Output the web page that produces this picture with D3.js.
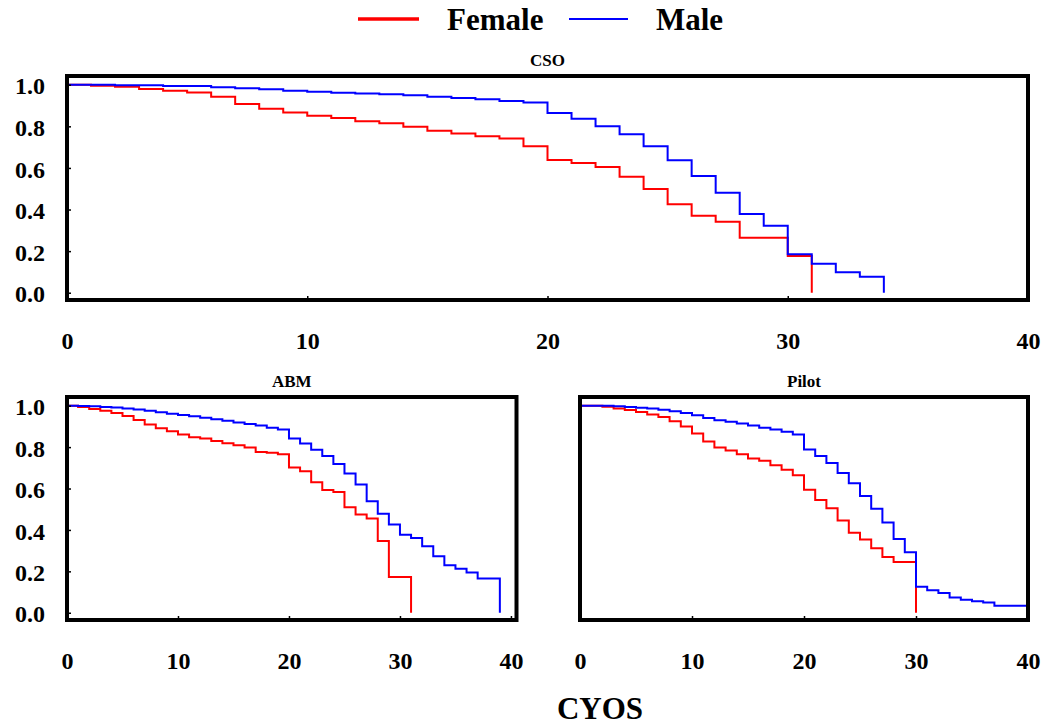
<!DOCTYPE html>
<html>
<head>
<meta charset="utf-8">
<script src="https://cdn.jsdelivr.net/npm/d3@7"></script>
<style>
	body { margin: 0; background: #fff; }
	text { font-family: "Liberation Serif", "Times New Roman", serif; font-weight: bold; }
</style>
</head>
<body>
<div id="chart"></div>
<script>
// survival by year (index = year), last point is the drop to 0
let csoFemale = [1.0, 0.995, 0.99, 0.98, 0.971, 0.963, 0.942, 0.907, 0.885, 0.867, 0.851, 0.84, 0.824, 0.815, 0.798, 0.779, 0.765, 0.752, 0.741, 0.704, 0.638, 0.624, 0.604, 0.558, 0.499, 0.425, 0.37, 0.341, 0.264, 0.264, 0.176, 0];
let csoMale = [1.0, 1.0, 0.997, 0.997, 0.994, 0.994, 0.988, 0.983, 0.978, 0.971, 0.966, 0.962, 0.958, 0.954, 0.949, 0.942, 0.936, 0.93, 0.922, 0.914, 0.864, 0.837, 0.8, 0.762, 0.704, 0.637, 0.561, 0.481, 0.378, 0.322, 0.185, 0.139, 0.098, 0.077, 0];
let abmFemale = [1.0, 0.994, 0.984, 0.975, 0.965, 0.95, 0.931, 0.909, 0.891, 0.877, 0.861, 0.848, 0.841, 0.83, 0.819, 0.809, 0.798, 0.776, 0.773, 0.766, 0.702, 0.684, 0.63, 0.593, 0.583, 0.51, 0.475, 0.455, 0.346, 0.173, 0.173, 0];
let abmMale = [1.0, 0.999, 0.997, 0.994, 0.991, 0.987, 0.982, 0.975, 0.968, 0.961, 0.955, 0.949, 0.942, 0.934, 0.927, 0.919, 0.911, 0.904, 0.894, 0.885, 0.841, 0.817, 0.787, 0.757, 0.718, 0.672, 0.62, 0.539, 0.478, 0.426, 0.377, 0.361, 0.321, 0.273, 0.229, 0.213, 0.194, 0.165, 0.165, 0];
let pilotFemale = [1.0, 1.0, 0.995, 0.986, 0.979, 0.97, 0.958, 0.946, 0.925, 0.899, 0.866, 0.827, 0.798, 0.784, 0.766, 0.745, 0.734, 0.712, 0.691, 0.664, 0.594, 0.545, 0.505, 0.446, 0.386, 0.354, 0.311, 0.269, 0.245, 0.245, 0];
let pilotMale = [1.0, 1.0, 1.0, 0.997, 0.994, 0.99, 0.986, 0.981, 0.973, 0.965, 0.954, 0.941, 0.93, 0.922, 0.914, 0.904, 0.894, 0.885, 0.874, 0.861, 0.789, 0.757, 0.723, 0.675, 0.625, 0.564, 0.502, 0.436, 0.356, 0.292, 0.125, 0.109, 0.096, 0.074, 0.063, 0.056, 0.05, 0.034, 0.034, 0.034, 0];

let xTicks = [0, 10, 20, 30, 40];
let yTicks = [0, 0.2, 0.4, 0.6, 0.8, 1.0];
let seriesNames = ["Female", "Male"];
let colors = { Female: "#ff0000", Male: "#0000ff" };

var w = 1044,
	h = 727;
var serif = '"Liberation Serif", "Times New Roman", serif';

var svg = d3
	.select("#chart")
	.append("svg")
	.attr("width", w)
	.attr("height", h);

svg.append("rect").attr("width", w).attr("height", h).attr("fill", "#fff");

var panels = [
	{ title: "CSO", Female: csoFemale, Male: csoMale, left: 67, right: 1028, top: 76, bottom: 300, xMax: 40, yAxis: true },
	{ title: "ABM", Female: abmFemale, Male: abmMale, left: 67, right: 516.5, top: 397, bottom: 620, xMax: 40.5, yAxis: true },
	{ title: "Pilot", Female: pilotFemale, Male: pilotMale, left: 580, right: 1028, top: 397, bottom: 620, xMax: 40, yAxis: false },
];

panels.forEach(function (p) {
	let x = d3.scaleLinear().domain([0, p.xMax]).range([p.left, p.right]);
	let y = d3.scaleLinear().domain([-0.035, 1.042]).range([p.bottom, p.top]);

	let g = svg.append("g").attr("class", "panel");

	let line = d3
		.line()
		.x((d, i) => x(i))
		.y((d) => y(d))
		.curve(d3.curveStepAfter);

	seriesNames.forEach(function (s) {
		g.append("path")
			.datum(p[s])
			.attr("d", line)
			.attr("fill", "none")
			.attr("stroke", colors[s])
			.attr("stroke-width", 2);
	});

	let xAxis = d3
		.axisBottom(x)
		.tickValues(xTicks)
		.tickSizeInner(-4)
		.tickSizeOuter(0)
		.tickPadding(32)
		.tickFormat(d3.format("d"));

	let gx = g
		.append("g")
		.attr("transform", "translate(0," + p.bottom + ")")
		.call(xAxis)
		.attr("font-family", serif)
		.attr("font-size", 24);
	gx.select(".domain").remove();
	gx.selectAll("line").attr("stroke", "#000").attr("stroke-width", 1.5);
	gx.selectAll("text").attr("fill", "#000");

	if (p.yAxis) {
		let yAxis = d3
			.axisLeft(y)
			.tickValues(yTicks)
			.tickSizeInner(-4)
			.tickSizeOuter(0)
			.tickPadding(22)
			.tickFormat(d3.format(".1f"));
		let gy = g
			.append("g")
			.attr("transform", "translate(" + p.left + ",0)")
			.call(yAxis)
			.attr("font-family", serif)
			.attr("font-size", 24);
		gy.select(".domain").remove();
		gy.selectAll("line").attr("stroke", "#000").attr("stroke-width", 1.5);
		gy.selectAll("text").attr("fill", "#000").attr("dy", "0.38em");
	}

	g.append("rect")
		.attr("x", p.left)
		.attr("y", p.top)
		.attr("width", p.right - p.left)
		.attr("height", p.bottom - p.top)
		.attr("fill", "none")
		.attr("stroke", "#000")
		.attr("stroke-width", 4);

	g.append("text")
		.attr("x", (p.left + p.right) / 2)
		.attr("y", p.top - 10)
		.attr("text-anchor", "middle")
		.attr("font-size", 17)
		.text(p.title);
});

// legend
let legend = svg.append("g").attr("id", "legend");
let legendItems = [
	{ name: "Female", x1: 358, x2: 419, tx: 447, width: 3.5 },
	{ name: "Male", x1: 569, x2: 628, tx: 656, width: 2 },
];
legendItems.forEach(function (d) {
	legend
		.append("line")
		.attr("x1", d.x1)
		.attr("x2", d.x2)
		.attr("y1", 19)
		.attr("y2", 19)
		.attr("stroke", colors[d.name])
		.attr("stroke-width", d.width);
	legend
		.append("text")
		.attr("x", d.tx)
		.attr("y", 30)
		.attr("font-size", 31)
		.text(d.name);
});

svg.append("text")
	.attr("x", 600)
	.attr("y", 719)
	.attr("text-anchor", "middle")
	.attr("font-size", 31)
	.text("CYOS");
</script>
</body>
</html>
